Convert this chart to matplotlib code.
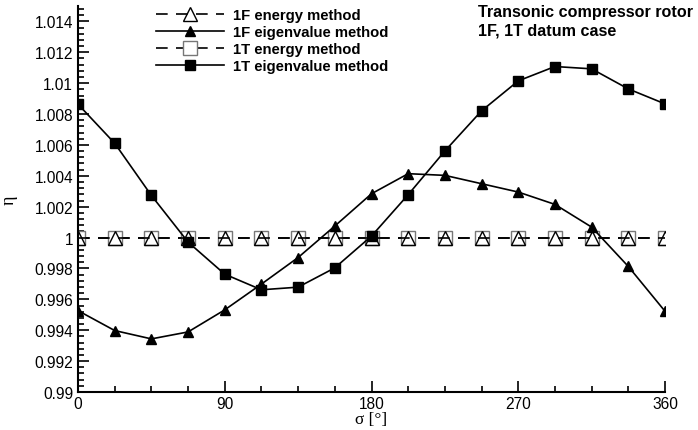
import numpy as np
import matplotlib
matplotlib.use("Agg")
import matplotlib.pyplot as plt
from matplotlib.ticker import MultipleLocator, FormatStrFormatter

plt.rcParams["font.family"] = ["Liberation Sans", "DejaVu Sans"]

# inter blade phase angle [deg]
sigma = [0, 22.5, 45, 67.5, 90, 112.5, 135, 157.5, 180,
         202.5, 225, 247.5, 270, 292.5, 315, 337.5, 360]

eta1FEnergy = [1.0] * 17
eta1FEigen = [0.99527, 0.99398, 0.99344, 0.99389, 0.99532, 0.99699, 0.99871, 1.00075, 1.00284,
              1.00414, 1.00403, 1.00349, 1.00295, 1.00215, 1.00068, 0.99813, 0.99523]
eta1TEnergy = [1.0] * 17
eta1TEigen = [1.00864, 1.00611, 1.00273, 0.99971, 0.99763, 0.99662, 0.99679, 0.99804, 1.0001,
              1.00278, 1.00561, 1.00821, 1.01015, 1.01108, 1.01093, 1.00963, 1.00866]

fig = plt.figure(figsize=(6.98, 4.31), dpi=100)
ax = fig.add_axes([78 / 698, 1 - 393 / 431, (665 - 78) / 698, (393 - 7) / 431])

dash = (0, (7, 5))
ax.plot(sigma, eta1TEnergy, linestyle=dash, color="black", lw=1.2, marker="s", ms=9.5,
        mfc="white", mec="#777777", mew=1.0, label="1T energy method", zorder=2)
ax.plot(sigma, eta1FEnergy, linestyle=dash, color="black", lw=1.2, marker="^", ms=10.5,
        mfc="none", mec="black", mew=1.0, label="1F energy method", zorder=3)
ax.plot(sigma, eta1FEigen, "-", color="black", lw=1.2, marker="^", ms=6.5,
        label="1F eigenvalue method", zorder=4)
ax.plot(sigma, eta1TEigen, "-", color="black", lw=1.2, marker="s", ms=6.5,
        label="1T eigenvalue method", zorder=4)

ax.set_xlim(0, 360)
ax.set_ylim(0.99, 1.015)
ax.xaxis.set_major_locator(MultipleLocator(90))
ax.xaxis.set_minor_locator(MultipleLocator(22.5))
ax.yaxis.set_major_locator(MultipleLocator(0.002))
ax.yaxis.set_minor_locator(MultipleLocator(0.0004))
ax.yaxis.set_major_formatter(FormatStrFormatter("%g"))
ax.tick_params(which="both", direction="in", width=1.2, labelsize=11.2)
ax.tick_params(which="major", length=8)
ax.tick_params(which="minor", length=4)
ax.tick_params(axis="x", pad=3)
ax.spines["top"].set_visible(False)
ax.spines["right"].set_visible(False)
ax.spines["left"].set_linewidth(1.5)
ax.spines["bottom"].set_linewidth(1.5)

ax.set_xlabel("σ [°]", family=["Liberation Serif", "DejaVu Serif"], fontsize=12.5, labelpad=0)
ax.set_ylabel("η", family=["Liberation Serif", "DejaVu Serif"], fontsize=13, labelpad=12)

h, l = ax.get_legend_handles_labels()
order = [1, 2, 0, 3]
ax.legend([h[i] for i in order], [l[i] for i in order], loc="upper left",
          bbox_to_anchor=(0.11, 1.03), frameon=False, handlelength=4.6,
          prop={"weight": "bold", "size": 10.7}, labelspacing=0.2, handletextpad=0.6)

fig.text(478 / 698, 1 - 13 / 431, "Transonic compressor rotor",
         ha="left", va="center", fontsize=11.6, weight="bold")
fig.text(478 / 698, 1 - 31 / 431, "1F, 1T datum case",
         ha="left", va="center", fontsize=11.6, weight="bold")

fig.savefig("out.png", dpi=100)
